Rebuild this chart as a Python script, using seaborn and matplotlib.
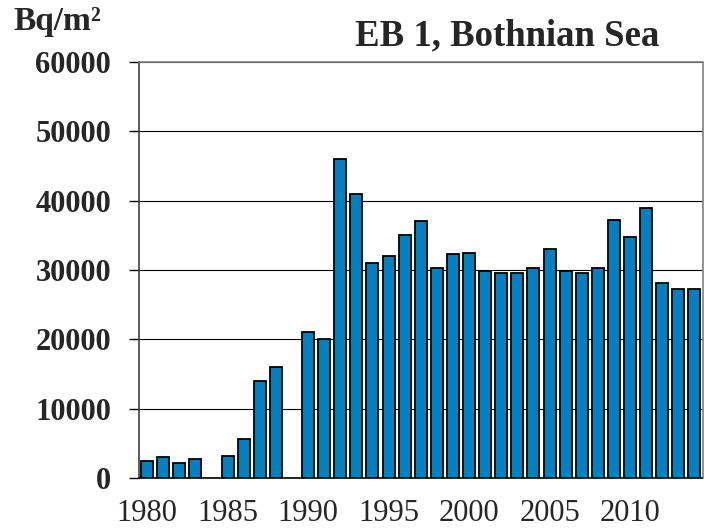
import matplotlib
matplotlib.use("Agg")
import matplotlib.pyplot as plt
import seaborn as sns
import pandas as pd
import numpy as np

# Cs-137 inventory at station EB 1 (Bq/m2)
years = list(range(1980, 2015))
values = [2400, 3000, 2100, 2700, None, 3200, 5600, 14000, 16000, None,
          21000, 20000, 46000, 41000, 31000, 32000, 35000, 37000, 30300, 32300,
          32400, 29900, 29500, 29500, 30300, 33000, 29900, 29500, 30300, 37200,
          34800, 39000, 28100, 27200, 27300]
tick_years = [1980, 1985, 1990, 1995, 2000, 2005, 2010]
y_ticks = [0, 10000, 20000, 30000, 40000, 50000, 60000]

title = "EB 1, Bothnian Sea"
unit = "Bq/m²"
bar_color = "#0080C0"

sns.set_style("white")
plt.rcParams["font.family"] = ["Liberation Serif", "DejaVu Serif"]

df = pd.DataFrame({"year": years, "bq": values}).dropna()

W, H = 704, 531
fig = plt.figure(figsize=(W / 100, H / 100), dpi=100)
ax = fig.add_axes([139 / W, 1 - 478 / H, 563.5 / W, 416 / H])

sns.barplot(data=df, x="year", y="bq", native_scale=True, width=0.75,
            color=bar_color, saturation=1, edgecolor="black", linewidth=1.3,
            errorbar=None, ax=ax, zorder=3)

ax.set_xlim(1979.5, 2014.5)
ax.set_ylim(0, 60000)
ax.set_yticks(y_ticks)
ax.set_yticklabels([str(v) for v in y_ticks], fontsize=22, fontweight="bold")
ax.set_xticks(tick_years)
ax.set_xticklabels([str(y) for y in tick_years], fontsize=22)
ax.set_xticks(np.arange(1979.5, 2015, 5), minor=True)
ax.set_xlabel("")
ax.set_ylabel("")

ax.tick_params(axis="x", which="major", length=0, pad=15)
ax.tick_params(axis="x", which="minor", length=7, width=1, color="black", direction="out")
ax.tick_params(axis="y", length=7, width=1, color="black", direction="out", pad=13, left=True)

ax.yaxis.grid(True, color="black", linewidth=0.8, zorder=0)
ax.xaxis.grid(False)
ax.set_axisbelow(True)

for side in ["top", "right"]:
    ax.spines[side].set_color("#808080")
    ax.spines[side].set_linewidth(1.2)
ax.spines["left"].set_color("#404040")
ax.spines["left"].set_linewidth(1.2)
ax.spines["bottom"].set_color("black")
ax.spines["bottom"].set_linewidth(1.2)

fig.text(355 / W, 1 - 45 / H, title, fontsize=26.5, fontweight="bold",
         ha="left", va="baseline")
fig.text(13 / W, 1 - 30 / H, unit, fontsize=24, fontweight="bold",
         ha="left", va="baseline")

fig.savefig("out.png", dpi=100, facecolor="white")
